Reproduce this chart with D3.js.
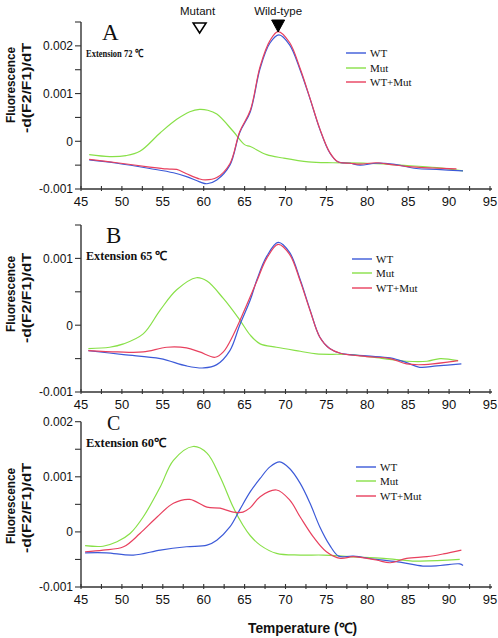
<!DOCTYPE html>
<html><head><meta charset="utf-8">
<script src="https://cdn.jsdelivr.net/npm/d3@7"></script>
<style>body{margin:0;background:#fff}svg{display:block}</style>
</head><body>
<svg id="c" width="498" height="638"></svg>
<script>
// ---- data (temperature °C, -d(F2/F1)/dT) ----
const seriesNames = ["WT", "Mut", "WT+Mut"];
const xTicks = [45, 50, 55, 60, 65, 70, 75, 80, 85, 90, 95];
const panelLetters = ["A", "B", "C"];
const extensionLabels = ["Extension 72 \u2103", "Extension 65 \u2103", "Extension 60\u2103"];
const yTicksA = [-0.001, 0, 0.001, 0.002];
const yTicksB = [-0.001, 0, 0.001];
const yTicksC = [-0.001, 0, 0.001, 0.002];
const markerLabels = ["Mutant", "Wild-type"];
const markerTemps = [59.5, 69.1];

const A_WT = [[46,-0.00039],[49.4,-0.00046],[53.4,-0.00057],[56.3,-0.00066],[57.9,-0.00074],[59.5,-0.00085],[60.4,-0.00089],[61.6,-0.00081],[63.2,-0.0005],[64.4,0.00018],[65.7,0.00062],[66.9,0.00153],[68.1,0.00206],[69.2,0.00223],[70.5,0.00202],[71.8,0.00149],[73,0.00089],[74.2,0.00025],[75.4,-0.00024],[76.4,-0.00043],[77.9,-0.00046],[79.1,-0.0005],[81.1,-0.00046],[83.1,-0.00048],[86,-0.00057],[88.5,-0.00059],[91.7,-0.00062]];
const A_Mut = [[46,-0.00028],[48.5,-0.00032],[50.5,-0.0003],[52.2,-0.00021],[54.7,0.00018],[56.7,0.00046],[58.3,0.00062],[59.5,0.00067],[60.5,0.00065],[61.6,0.00057],[63.6,0.00021],[65,-0.00007],[65.7,-0.00011],[67.7,-0.00028],[69.7,-0.00035],[72.8,-0.00043],[75.8,-0.00045],[79.9,-0.00046],[84,-0.0005],[88.5,-0.00055],[91.7,-0.00062]];
const A_Mix = [[46,-0.00038],[49.4,-0.00045],[53.4,-0.00054],[55.5,-0.00058],[56.7,-0.00059],[57.9,-0.00068],[59.5,-0.00079],[60.2,-0.00081],[61.6,-0.00076],[63.2,-0.00047],[64.4,0.0002],[65.7,0.00065],[66.9,0.00157],[68.1,0.00211],[69.1,0.0023],[70.5,0.00207],[71.8,0.00152],[73,0.0009],[74.2,0.00026],[75.4,-0.00023],[76.4,-0.00043],[77.9,-0.00046],[79.1,-0.00048],[81.1,-0.00045],[83,-0.00049],[85,-0.00053],[88,-0.00056],[90.9,-0.00058]];

const B_WT = [[45.9,-0.00038],[50.2,-0.00044],[54.7,-0.0005],[57.9,-0.00061],[60,-0.00064],[61.6,-0.00059],[63.2,-0.00038],[64.4,0],[65.7,0.00038],[66.5,0.00068],[67.7,0.00103],[69.1,0.00124],[70.5,0.00109],[71.8,0.00068],[73,0.00023],[74.2,-0.00018],[75.4,-0.00035],[76.7,-0.00042],[79.9,-0.00046],[82.8,-0.00049],[84.8,-0.00056],[86.4,-0.00063],[88.5,-0.00061],[91.5,-0.00058]];
const B_Mut = [[45.9,-0.00035],[48.5,-0.00033],[50.2,-0.00028],[52.6,-0.00013],[54.7,0.00023],[56.7,0.00053],[59.1,0.00071],[60.4,0.00066],[62.4,0.0004],[64.4,0.00008],[65.7,-0.00015],[66.9,-0.00028],[68.9,-0.00033],[71.8,-0.00039],[73.8,-0.00043],[77.9,-0.00044],[82,-0.0005],[84.8,-0.00054],[87.3,-0.00054],[88.9,-0.0005],[91.1,-0.00053]];
const B_Mix = [[45.9,-0.00038],[49.5,-0.0004],[52.6,-0.0004],[55.5,-0.00033],[57.9,-0.00034],[59.5,-0.0004],[61.4,-0.00048],[62.4,-0.0004],[63.6,-0.00015],[65,0.00023],[66.5,0.00066],[67.7,0.001],[69.1,0.00121],[70.5,0.00106],[71.8,0.00066],[73,0.00022],[74.2,-0.00018],[75.4,-0.00035],[76.7,-0.00042],[79.9,-0.00047],[82.8,-0.0005],[84.8,-0.00058],[87,-0.00059],[90,-0.00055],[91.1,-0.00053]];

const C_WT = [[45.5,-0.00038],[48.1,-0.00038],[51.4,-0.00042],[54.7,-0.00033],[57.9,-0.00027],[60.4,-0.00024],[61.6,-0.00015],[63.2,0.00009],[64.4,0.0004],[65.7,0.00073],[66.9,0.00097],[68.1,0.00118],[69.3,0.00127],[70.5,0.00115],[71.8,0.00088],[73,0.00052],[74.2,0.00009],[75.4,-0.00024],[76.5,-0.00044],[78.3,-0.00044],[81.1,-0.0005],[84,-0.00055],[86.8,-0.00062],[88.9,-0.00061],[91.3,-0.00058],[91.7,-0.00061]];
const C_Mut = [[45.5,-0.00025],[47.7,-0.00026],[49.4,-0.00018],[51,-0.00003],[52.6,0.00027],[54.7,0.00082],[56.3,0.0013],[58.7,0.00155],[60.4,0.00143],[62,0.001],[63.6,0.00045],[64.8,0.00012],[65.7,-0.00007],[66.9,-0.00024],[68.9,-0.00039],[71.8,-0.00042],[74.6,-0.00042],[77.9,-0.00045],[82,-0.00048],[86,-0.00053],[91.3,-0.0005]];
const C_Mix = [[45.5,-0.00036],[47.7,-0.00033],[50.2,-0.00027],[52.2,-0.00003],[54.3,0.00027],[56.3,0.00052],[58.3,0.00059],[60.4,0.00045],[62,0.00043],[63.6,0.00036],[64.8,0.00036],[65.7,0.00044],[66.9,0.00064],[68.9,0.00076],[70.5,0.00058],[71.8,0.00027],[73.4,-0.00009],[75,-0.00036],[76.7,-0.00048],[78.3,-0.00045],[81.1,-0.00051],[82.8,-0.00056],[84.8,-0.00048],[87.3,-0.00045],[89.3,-0.0004],[91.5,-0.00033]];

// ---- layout / style ----
const colors = ["#3c5ad8", "#88e048", "#e8405e"];
const svg = d3.select("#c");

const panels = [
  {series:[A_WT,A_Mut,A_Mix], yDom:[-0.001,0.0025], yRange:[189,22], ticks:yTicksA,
   letterX:102, letterY:40, letterSize:23, extY:57, extLen:57, extSize:11, legX:346, legY:[53,68,82],
   titleY:[85,88]},
  {series:[B_WT,B_Mut,B_Mix], yDom:[-0.001,0.0015], yRange:[392,225], ticks:yTicksB,
   letterX:106, letterY:243, letterSize:23, extY:260, extLen:81, extSize:12.5, legX:352, legY:[259,273,288],
   titleY:[294,298]},
  {series:[C_WT,C_Mut,C_Mix], yDom:[-0.001,0.002], yRange:[587,421.7], ticks:yTicksC,
   letterX:107, letterY:430, letterSize:20, extY:447, extLen:80, extSize:12.5, legX:356, legY:[467,481,496],
   titleY:[506,508]}
];

const x = d3.scaleLinear().domain([45,95]).range([81,490]);
const fmt = v => v === 0 ? "0" : d3.format(".3f")(v).replace("\u2212","-");

panels.forEach((p, i) => {
  const y = d3.scaleLinear().domain(p.yDom).range(p.yRange);
  const g = svg.append("g");

  // y axis
  const minor = d3.range(p.yDom[0], p.yDom[1] + 1e-9, 0.0005);
  g.append("line").attr("x1",81).attr("x2",81).attr("y1",y(p.yDom[0])).attr("y2",y(p.yDom[1]))
    .attr("stroke","#333").attr("stroke-width",1.4);
  minor.forEach(v => g.append("line").attr("x1",75).attr("x2",81).attr("y1",y(v)).attr("y2",y(v))
    .attr("stroke","#333").attr("stroke-width",1.1));
  p.ticks.forEach(v => g.append("text").attr("x",73).attr("y",y(v)).attr("dy","0.36em")
    .attr("text-anchor","end").attr("font-family","Liberation Sans, Arial, sans-serif")
    .attr("font-size",12).attr("fill","#111").text(fmt(v)));

  // x axis
  const x0 = y(p.yDom[0]);
  g.append("line").attr("x1",81).attr("x2",492).attr("y1",x0).attr("y2",x0)
    .attr("stroke","#333").attr("stroke-width",1.4);
  d3.range(45, 95.01, 2.5).forEach(t => g.append("line").attr("x1",x(t)).attr("x2",x(t))
    .attr("y1",x0-3).attr("y2",x0+2).attr("stroke","#333").attr("stroke-width",1.1));
  xTicks.forEach(t => g.append("text").attr("x",x(t)).attr("y",x0+17).attr("text-anchor","middle")
    .attr("font-family","Liberation Sans, Arial, sans-serif").attr("font-size",13)
    .attr("fill","#111").text(t));

  // y title
  [["Fluorescence",15,76,p.titleY[0]],["-d(F2/F1)/dT",31,90,p.titleY[1]]].forEach(([s,bx,len,cy]) => {
    g.append("text").attr("transform",`translate(${bx},${cy}) rotate(-90)`)
      .attr("text-anchor","middle").attr("font-family","Liberation Sans, Arial, sans-serif")
      .attr("font-weight","bold").attr("font-size",13.5).attr("fill","#111")
      .attr("textLength",len).attr("lengthAdjust","spacingAndGlyphs").text(s);
  });

  // letter + extension label
  g.append("text").attr("x",p.letterX).attr("y",p.letterY).attr("font-family","Liberation Serif, Times New Roman, serif")
    .attr("font-size",p.letterSize).attr("fill","#111").text(panelLetters[i]);
  g.append("text").attr("x",86).attr("y",p.extY).attr("font-family","Liberation Serif, Times New Roman, serif")
    .attr("font-weight","bold").attr("font-size",p.extSize).attr("fill","#111")
    .attr("textLength",p.extLen).attr("lengthAdjust","spacingAndGlyphs").text(extensionLabels[i]);

  // curves
  const line = d3.line().x(d => x(d[0])).y(d => y(d[1])).curve(d3.curveCatmullRom.alpha(0.5));
  [1,0,2].forEach(k => g.append("path").attr("d", line(p.series[k])).attr("fill","none")
    .attr("stroke", colors[k]).attr("stroke-width",1.2));

  // legend
  seriesNames.forEach((n,k) => {
    g.append("line").attr("x1",p.legX).attr("x2",p.legX+20).attr("y1",p.legY[k]).attr("y2",p.legY[k])
      .attr("stroke",colors[k]).attr("stroke-width",1.4);
    g.append("text").attr("x",p.legX+24).attr("y",p.legY[k]).attr("dy","0.34em")
      .attr("font-family","Liberation Serif, Times New Roman, serif").attr("font-size",11)
      .attr("fill","#111").text(n);
  });

  // markers on top panel
  if (i === 0) {
    markerLabels.forEach((s,k) => {
      const cx = x(markerTemps[k]);
      g.append("text").attr("x",cx - (k===0?2:0)).attr("y",15).attr("text-anchor","middle")
        .attr("font-family","Liberation Sans, Arial, sans-serif").attr("font-size",11.5)
        .attr("fill","#111").text(s);
      const top = k===0 ? 23 : 20, bot = k===0 ? 33 : 32, hw = 6.5;
      g.append("path").attr("d",`M${cx-hw},${top}L${cx+hw},${top}L${cx},${bot}Z`)
        .attr("fill", k===0 ? "none" : "#000").attr("stroke","#000").attr("stroke-width",k===0?1.5:1);
    });
  }
});

// x title
svg.append("text").attr("x",248).attr("y",633).attr("font-family","Liberation Sans, Arial, sans-serif")
  .attr("font-weight","bold").attr("font-size",14).attr("fill","#111")
  .attr("textLength",109).attr("lengthAdjust","spacingAndGlyphs").text("Temperature (\u2103)");
</script>
</body></html>
